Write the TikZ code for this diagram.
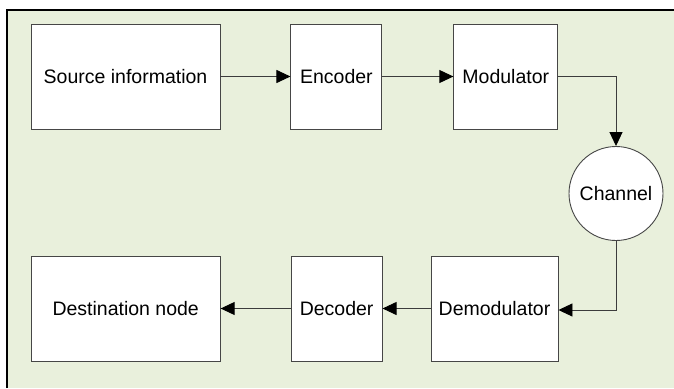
\documentclass[tikz,border=0pt]{standalone}
\usepackage{fontspec}
\setmainfont{Liberation Sans}
\usetikzlibrary{shapes,arrows.meta,positioning}
\definecolor{paper}{RGB}{233,240,220}
\definecolor{boxline}{RGB}{70,70,70}
\definecolor{arrowline}{RGB}{60,60,60}

\begin{document}
\begin{tikzpicture}[% List of styles applied to all, to override specify on a case-by-case
			every node/.style={
				align=center,  		% text centred in the blocks
				draw=boxline,fill=white,line width=0.9pt,
				inner sep=0pt,
				font=\fontsize{19.5}{23}\selectfont
			},
			block/.style={rectangle,minimum height=105pt},
			every edge/.style={draw=arrowline,line width=0.9pt},
			>={Triangle[length=14pt,width=13pt,black]}
		]
		% background and frame
		\useasboundingbox (0,0) rectangle (674pt,-388pt);
		\fill[paper] (7pt,-10pt) rectangle (674pt,-388pt);
		\draw[line width=2.4pt] (7pt,-388pt) |- (674pt,-10pt);
		% upper row
		\node[block,minimum width=189pt](R1) at (125.5pt,-76.5pt){Source information};
		\node[block,minimum width=91pt](R2)[right=70pt of R1]{Encoder};
		\node[block,minimum width=104pt](R3)[right=71pt of R2]{Modulator};
		\node[circle,minimum size=94pt](R4) at (616pt,-193.5pt){Channel};
		% lower row
		\node[block,minimum width=127pt](R5) at (494.5pt,-308.5pt){Demodulator};
		\node[block,minimum width=91pt](R6)[left=48pt of R5]{Decoder};
		\node[block,minimum width=189pt](R7)[left=70pt of R6]{Destination node};
		\path[->]
		(R1)edge [] (R2)
		(R2)edge [] (R3)
		(R5)edge [] (R6)
		(R6)edge [] (R7)
		;
		\draw[->,draw=arrowline,line width=0.9pt] (R3) -| (R4);
		\draw[->,draw=arrowline,line width=0.9pt] (R4) |- ([yshift=-1.5pt]R5.east);
	\end{tikzpicture}
\end{document}
